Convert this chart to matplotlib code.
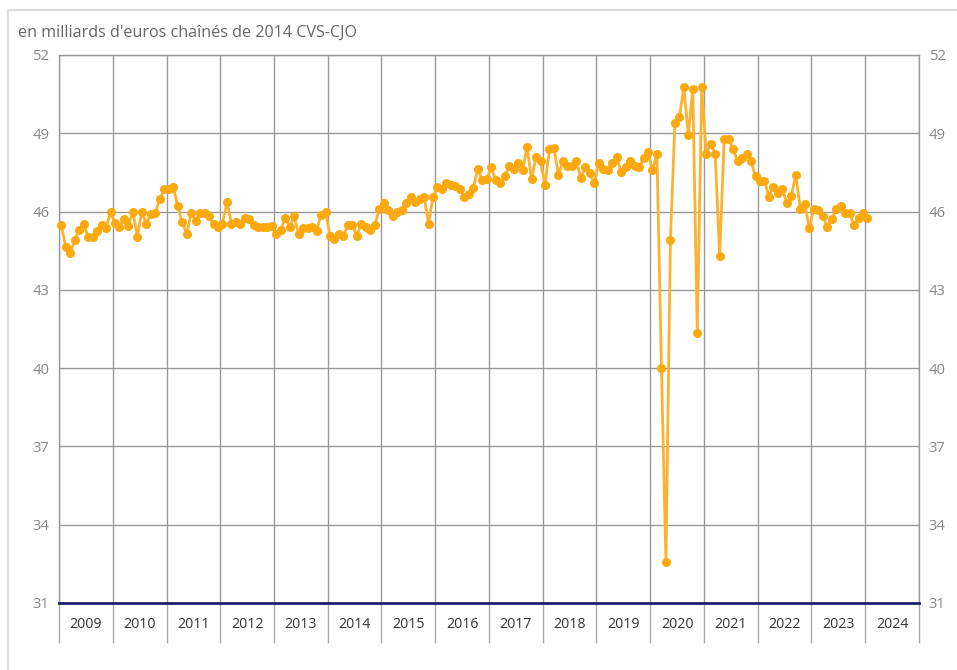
import matplotlib
matplotlib.use("Agg")
import matplotlib.pyplot as plt
from matplotlib.patches import Rectangle
import numpy as np

plt.rcParams['font.family'] = ['Open Sans', 'DejaVu Sans']

title = "en milliards d'euros chaînés de 2014 CVS-CJO"
years = [str(y) for y in range(2009, 2025)]
start_year = 2009
yticks = [31, 34, 37, 40, 43, 46, 49, 52]

values = [
    # 2009
    45.48, 44.63, 44.40, 44.91, 45.31, 45.54, 45.03, 45.03, 45.26, 45.48, 45.36, 46.00,
    # 2010
    45.56, 45.41, 45.70, 45.46, 46.00, 45.03, 46.00, 45.54, 45.92, 45.95, 46.50, 46.85,
    # 2011
    46.85, 46.95, 46.22, 45.59, 45.13, 45.95, 45.64, 45.95, 45.95, 45.82, 45.54, 45.41,
    # 2012
    45.54, 46.38, 45.54, 45.59, 45.54, 45.76, 45.70, 45.48, 45.41, 45.41, 45.41, 45.46,
    # 2013
    45.13, 45.31, 45.76, 45.41, 45.82, 45.13, 45.36, 45.36, 45.41, 45.26, 45.88, 46.00,
    # 2014
    45.08, 44.96, 45.13, 45.08, 45.48, 45.48, 45.08, 45.54, 45.41, 45.31, 45.48, 46.09,
    # 2015
    46.33, 46.05, 45.82, 46.00, 46.05, 46.33, 46.56, 46.38, 46.50, 46.56, 45.54, 46.56,
    # 2016
    46.95, 46.85, 47.08, 47.02, 46.97, 46.85, 46.56, 46.69, 46.90, 47.64, 47.20, 47.24,
    # 2017
    47.69, 47.20, 47.08, 47.36, 47.74, 47.63, 47.87, 47.59, 48.48, 47.23, 48.10, 47.92,
    # 2018
    47.01, 48.38, 48.43, 47.42, 47.92, 47.75, 47.75, 47.92, 47.29, 47.69, 47.46, 47.08,
    # 2019
    47.87, 47.65, 47.59, 47.87, 48.10, 47.52, 47.72, 47.92, 47.75, 47.69, 48.04, 48.27,
    # 2020
    47.59, 48.20, 40.00, 32.56, 44.91, 49.39, 49.61, 50.76, 48.94, 50.70, 41.36, 50.76,
    # 2021
    48.20, 48.60, 48.20, 44.28, 48.78, 48.78, 48.38, 47.92, 48.04, 48.20, 47.92, 47.36,
    # 2022
    47.19, 47.19, 46.56, 46.96, 46.73, 46.85, 46.33, 46.61, 47.41, 46.10, 46.28, 45.36,
    # 2023
    46.10, 46.05, 45.82, 45.42, 45.71, 46.10, 46.22, 45.94, 45.94, 45.48, 45.76, 45.94,
    # 2024
    45.76,
]

W, H = 957, 670
fig = plt.figure(figsize=(W / 100, H / 100), dpi=100)

# outer light frame
fig.patches.append(Rectangle((8 / W, -0.05), 1.1, 1 - 10 / H + 0.05,
                             transform=fig.transFigure, fill=False,
                             edgecolor='#dddddd', linewidth=1.5))

ax = fig.add_axes([59 / W, 1 - 603 / H, (919 - 59) / W, (603 - 55) / H])

months = np.arange(len(values)) + 0.5
ax.plot(months, values, color='#fbb230', linewidth=2.0, zorder=3,
        marker='o', markersize=5.5, markerfacecolor='#fca90f',
        markeredgecolor='#fca90f', clip_on=False)

n_years = len(years)
ax.set_xlim(0, 12 * n_years)
ax.set_ylim(31, 52)

# grid
ax.set_yticks(yticks)
ax.yaxis.grid(True, color='#999999', linewidth=1)
ax.set_xticks(np.arange(0, 12 * n_years + 1, 12))
ax.set_xticks(np.arange(6, 12 * n_years, 12), minor=True)
ax.set_xticklabels([''] * (n_years + 1))
ax.set_xticklabels(years, minor=True)
ax.xaxis.grid(True, which='major', color='#999999', linewidth=1)
ax.set_axisbelow(True)

ax.tick_params(axis='x', which='major', length=29, width=1, color='#aaaaaa',
               direction='out')
ax.tick_params(axis='x', which='minor', length=0, pad=10, labelsize=10.2,
               labelcolor='#333333')
ax.tick_params(axis='y', which='both', length=0, pad=7, labelsize=10.7,
               labelcolor='#888888', left=True, right=True,
               labelleft=True, labelright=True)

for side in ['left', 'right', 'top']:
    ax.spines[side].set_color('#999999')
    ax.spines[side].set_linewidth(1)
ax.spines['bottom'].set_color('#1f1f70')
ax.spines['bottom'].set_linewidth(2)
ax.spines['bottom'].set_zorder(4)

fig.text(18 / W, 1 - 33 / H, title, fontsize=11.6, color='#666666',
         ha='left', va='center')

fig.savefig('out.png', dpi=100, facecolor='white')
